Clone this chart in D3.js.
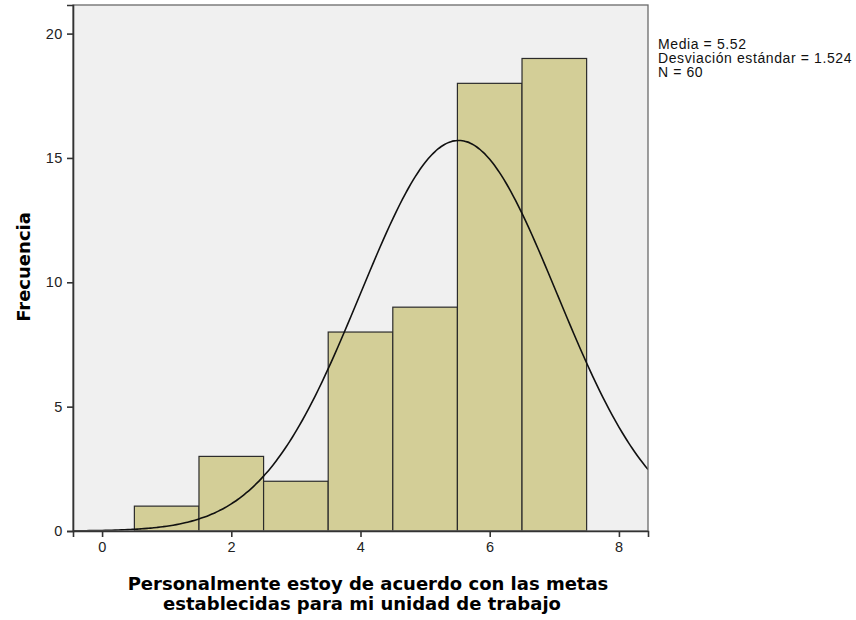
<!DOCTYPE html>
<html>
<head>
<meta charset="utf-8">
<script src="https://cdn.jsdelivr.net/npm/d3@7"></script>
<style>
  body { margin:0; background:#fff; }
  .tick text { font-family:"Liberation Sans", Arial, sans-serif; font-size:14.5px; letter-spacing:0.6px; fill:#222; }
</style>
</head>
<body>
<div id="canvas"></div>
<script>
// histogram data
var binCenters = [1, 2, 3, 4, 5, 6, 7];
var counts = [1, 3, 2, 8, 9, 18, 19];
var xTicks = [0, 2, 4, 6, 8];
var yTicks = [0, 5, 10, 15, 20];
var stats = ['Media = 5.52', 'Desviación estándar = 1.524', 'N = 60'];
var mean = 5.52, sd = 1.524, n = 60;

var W = 856, H = 620;
var m = {t:5, r:208, b:89, l:73};
var w = W - m.l - m.r,
    h = H - m.t - m.b;

var svg = d3.select('#canvas').append('svg')
    .attr('width', W).attr('height', H);

var plot = svg.append('g')
    .attr('transform', 'translate(' + m.l + ',' + m.t + ')');

var scaleX = d3.scaleLinear().domain([-0.45, 8.45]).range([0, w]);
var scaleY = d3.scaleLinear().domain([0, 21.15]).range([h, 0]);

plot.append('rect')
    .attr('width', w).attr('height', h)
    .style('fill', '#f0f0f0');

// bars
plot.selectAll('.bar').data(binCenters).enter().append('rect')
    .attr('class', 'bar')
    .attr('x', function(d){ return scaleX(d - 0.5); })
    .attr('width', function(d){ return scaleX(d + 0.5) - scaleX(d - 0.5); })
    .attr('y', function(d, i){ return scaleY(counts[i]); })
    .attr('height', function(d, i){ return h - scaleY(counts[i]); })
    .style('fill', '#d3ce97')
    .style('stroke', '#2b2b2b')
    .style('stroke-width', 1.2);

// fitted normal curve from the stats shown in the legend
var curveX = d3.range(-0.45, 8.451, 0.05);
var line = d3.line()
    .x(function(d){ return scaleX(d); })
    .y(function(d){ return scaleY(n / (sd * Math.sqrt(2 * Math.PI)) * Math.exp(-0.5 * Math.pow((d - mean) / sd, 2))); })
    .curve(d3.curveBasis);

plot.append('clipPath').attr('id', 'clip')
    .append('rect').attr('width', w).attr('height', h);

plot.append('path')
    .datum(curveX)
    .attr('d', line)
    .attr('clip-path', 'url(#clip)')
    .style('fill', 'none')
    .style('stroke', '#111')
    .style('stroke-width', 1.6);

// frame
plot.append('rect')
    .attr('width', w).attr('height', h)
    .style('fill', 'none')
    .style('stroke', '#6a6a6a')
    .style('stroke-width', 1.3);

var axisX = d3.axisBottom(scaleX).tickValues(xTicks).tickSize(6).tickPadding(5).tickFormat(d3.format('d'));
var axisY = d3.axisLeft(scaleY).tickValues(yTicks).tickSize(6).tickPadding(4).tickFormat(d3.format('d'));

var gx = plot.append('g').attr('class', 'axis')
    .attr('transform', 'translate(0,' + h + ')')
    .call(axisX);
var gy = plot.append('g').attr('class', 'axis')
    .call(axisY);

[gx, gy].forEach(function(g){
    g.select('.domain').style('stroke', '#333').style('stroke-width', 1.6);
    g.selectAll('.tick line').style('stroke', '#333').style('stroke-width', 1.6);
});

// axis titles
svg.append('text')
    .attr('x', 368).attr('y', 590)
    .attr('text-anchor', 'middle')
    .style('font-family', '"DejaVu Sans", sans-serif')
    .style('font-weight', 'bold')
    .style('font-size', '18px')
    .text('Personalmente estoy de acuerdo con las metas');
svg.append('text')
    .attr('x', 362).attr('y', 610)
    .attr('text-anchor', 'middle')
    .style('font-family', '"DejaVu Sans", sans-serif')
    .style('font-weight', 'bold')
    .style('font-size', '18px')
    .text('establecidas para mi unidad de trabajo');

svg.append('text')
    .attr('transform', 'translate(30,267) rotate(-90)')
    .attr('text-anchor', 'middle')
    .style('font-family', '"DejaVu Sans", sans-serif')
    .style('font-weight', 'bold')
    .style('font-size', '18px')
    .text('Frecuencia');

// stats legend
svg.append('g').selectAll('text').data(stats).enter().append('text')
    .attr('x', 658)
    .attr('y', function(d, i){ return 49 + i * 14; })
    .style('font-family', '"Liberation Sans", Arial, sans-serif')
    .style('font-size', '14px')
    .style('letter-spacing', '0.6px')
    .style('fill', '#111')
    .text(function(d){ return d; });
</script>
</body>
</html>
